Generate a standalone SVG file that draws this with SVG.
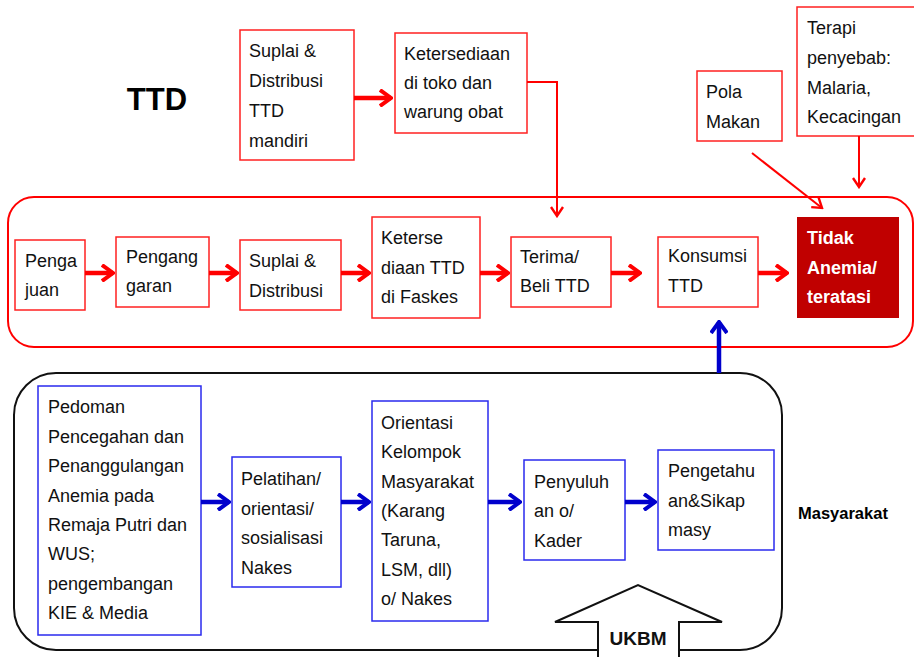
<svg xmlns="http://www.w3.org/2000/svg" width="914" height="657" viewBox="0 0 914 657">
  <defs>
    <style>
      text { font-family: "Liberation Sans", Arial, sans-serif; font-size: 18px; fill: #111; }
      .rbox { fill: #fff; stroke: #ff2020; stroke-width: 1.5; }
      .bbox { fill: #fff; stroke: #2a2aee; stroke-width: 1.5; }
      .rarrow { fill: none; stroke: #ff0000; stroke-width: 4.5; }
      .rline { fill: none; stroke: #ff0000; stroke-width: 2; }
      .barrow { fill: none; stroke: #0000cc; stroke-width: 4.5; }
      .bold { font-weight: bold; }
    </style>
    <marker id="headR" markerUnits="userSpaceOnUse" viewBox="0 0 14 18" refX="12" refY="9" markerWidth="14" markerHeight="18" orient="auto">
      <path d="M1,1 L12,9 L1,17" fill="none" stroke="#ff0000" stroke-width="4"/>
    </marker>
    <marker id="headRs" markerUnits="userSpaceOnUse" viewBox="0 0 12 14" refX="10" refY="7" markerWidth="12" markerHeight="14" orient="auto">
      <path d="M1,1 L10,7 L1,13" fill="none" stroke="#ff0000" stroke-width="2.4"/>
    </marker>
    <marker id="headB" markerUnits="userSpaceOnUse" viewBox="0 0 14 18" refX="12" refY="9" markerWidth="14" markerHeight="18" orient="auto">
      <path d="M1,1 L12,9 L1,17" fill="none" stroke="#0000cc" stroke-width="4"/>
    </marker>
  </defs>

  <rect width="914" height="657" fill="#fff"/>

  <!-- section frames -->
  <g id="frames">
    <rect x="8" y="197" width="905" height="150" rx="26" ry="26" fill="none" stroke="#ff0000" stroke-width="2"/>
    <rect x="14" y="373" width="768" height="277" rx="42" ry="42" fill="none" stroke="#111" stroke-width="2"/>
  </g>

  <!-- labels -->
  <g id="labels">
    <text x="157" y="110" text-anchor="middle" class="bold" style="font-size:31px;fill:#000">TTD</text>
    <text x="798" y="519" class="bold" style="font-size:16.5px;fill:#000">Masyarakat</text>
  </g>

  <!-- top row -->
  <g id="suplai-mandiri">
    <rect class="rbox" x="240" y="30" width="114" height="130"/>
    <text x="249" y="57">Suplai &amp;</text>
    <text x="249" y="87">Distribusi</text>
    <text x="249" y="117">TTD</text>
    <text x="249" y="147">mandiri</text>
  </g>
  <g id="ketersediaan-toko">
    <rect class="rbox" x="395" y="33" width="132" height="100"/>
    <text x="404" y="60">Ketersediaan</text>
    <text x="404" y="89">di toko dan</text>
    <text x="404" y="118">warung obat</text>
  </g>
  <g id="pola-makan">
    <rect class="rbox" x="697" y="71" width="85" height="70"/>
    <text x="706" y="98">Pola</text>
    <text x="706" y="128">Makan</text>
  </g>
  <g id="terapi">
    <rect class="rbox" x="797" y="7" width="130" height="129"/>
    <text x="807" y="34">Terapi</text>
    <text x="807" y="64">penyebab:</text>
    <text x="807" y="94">Malaria,</text>
    <text x="807" y="123">Kecacingan</text>
  </g>

  <!-- main TTD row -->
  <g id="pengajuan">
    <rect class="rbox" x="15" y="240" width="70" height="70"/>
    <text x="25" y="267">Penga</text>
    <text x="25" y="296">juan</text>
  </g>
  <g id="penganggaran">
    <rect class="rbox" x="116" y="237" width="93" height="70"/>
    <text x="126" y="263">Pengang</text>
    <text x="126" y="292">garan</text>
  </g>
  <g id="suplai-distribusi">
    <rect class="rbox" x="240" y="240" width="101" height="70"/>
    <text x="249" y="267">Suplai &amp;</text>
    <text x="249" y="297">Distribusi</text>
  </g>
  <g id="ketersediaan-faskes">
    <rect class="rbox" x="372" y="217" width="108" height="101"/>
    <text x="381" y="244">Keterse</text>
    <text x="381" y="274">diaan TTD</text>
    <text x="381" y="303">di Faskes</text>
  </g>
  <g id="terima-beli">
    <rect class="rbox" x="511" y="237" width="100" height="70"/>
    <text x="520" y="263">Terima/</text>
    <text x="520" y="292">Beli  TTD</text>
  </g>
  <g id="konsumsi">
    <rect class="rbox" x="658" y="237" width="100" height="70"/>
    <text x="668" y="262">Konsumsi</text>
    <text x="668" y="292">TTD</text>
  </g>
  <g id="tidak-anemia">
    <rect x="797" y="217" width="102" height="101" fill="#c00000"/>
    <text x="807" y="244" class="bold" style="fill:#fff">Tidak</text>
    <text x="807" y="274" class="bold" style="fill:#fff">Anemia/</text>
    <text x="807" y="303" class="bold" style="fill:#fff">teratasi</text>
  </g>

  <!-- community row -->
  <g id="pedoman">
    <rect class="bbox" x="38" y="386" width="163" height="249"/>
    <text x="48" y="413">Pedoman</text>
    <text x="48" y="443">Pencegahan dan</text>
    <text x="48" y="472">Penanggulangan</text>
    <text x="48" y="502">Anemia pada</text>
    <text x="48" y="531">Remaja Putri dan</text>
    <text x="48" y="560">WUS;</text>
    <text x="48" y="590">pengembangan</text>
    <text x="48" y="619">KIE &amp; Media</text>
  </g>
  <g id="pelatihan">
    <rect class="bbox" x="232" y="457" width="109" height="130"/>
    <text x="241" y="485">Pelatihan/</text>
    <text x="241" y="515">orientasi/</text>
    <text x="241" y="544">sosialisasi</text>
    <text x="241" y="574">Nakes</text>
  </g>
  <g id="orientasi">
    <rect class="bbox" x="372" y="401" width="116" height="220"/>
    <text x="381" y="429">Orientasi</text>
    <text x="381" y="458">Kelompok</text>
    <text x="381" y="488">Masyarakat</text>
    <text x="381" y="517">(Karang</text>
    <text x="381" y="546">Taruna,</text>
    <text x="381" y="576">LSM, dll)</text>
    <text x="381" y="605">o/ Nakes</text>
  </g>
  <g id="penyuluhan">
    <rect class="bbox" x="524" y="460" width="101" height="100"/>
    <text x="534" y="488">Penyuluh</text>
    <text x="534" y="517">an o/</text>
    <text x="534" y="547">Kader</text>
  </g>
  <g id="pengetahuan">
    <rect class="bbox" x="658" y="450" width="116" height="100"/>
    <text x="668" y="477">Pengetahu</text>
    <text x="668" y="507">an&amp;Sikap</text>
    <text x="668" y="536">masy</text>
  </g>

  <g id="ukbm">
    <path d="M598,662 L598,622 L555,622 L638,585 L722,622 L679,622 L679,662" fill="#fff" stroke="#111" stroke-width="2"/>
    <text x="638" y="645" text-anchor="middle" class="bold" style="font-size:19px;fill:#111">UKBM</text>
  </g>

  <!-- connectors -->
  <g id="connectors">
    <line class="rarrow" x1="354" y1="98" x2="391" y2="98" marker-end="url(#headR)"/>
    <polyline class="rline" points="527,82 557,82 557,216" marker-end="url(#headRs)"/>
    <line class="rline" x1="752" y1="153" x2="822" y2="208" marker-end="url(#headRs)"/>
    <line class="rline" x1="859" y1="136" x2="859" y2="187" marker-end="url(#headRs)"/>

    <line class="rarrow" x1="85" y1="273" x2="113" y2="273" marker-end="url(#headR)"/>
    <line class="rarrow" x1="209" y1="273" x2="237" y2="273" marker-end="url(#headR)"/>
    <line class="rarrow" x1="341" y1="273" x2="369" y2="273" marker-end="url(#headR)"/>
    <line class="rarrow" x1="480" y1="273" x2="508" y2="273" marker-end="url(#headR)"/>
    <line class="rarrow" x1="611" y1="273" x2="640" y2="273" marker-end="url(#headR)"/>
    <line class="rarrow" x1="758" y1="273" x2="787" y2="273" marker-end="url(#headR)"/>

    <line class="barrow" x1="719" y1="373" x2="719" y2="322" marker-end="url(#headB)"/>
    <line class="barrow" x1="201" y1="502" x2="229" y2="502" marker-end="url(#headB)"/>
    <line class="barrow" x1="341" y1="502" x2="369" y2="502" marker-end="url(#headB)"/>
    <line class="barrow" x1="488" y1="502" x2="520" y2="502" marker-end="url(#headB)"/>
    <line class="barrow" x1="625" y1="502" x2="655" y2="502" marker-end="url(#headB)"/>
  </g>
</svg>
